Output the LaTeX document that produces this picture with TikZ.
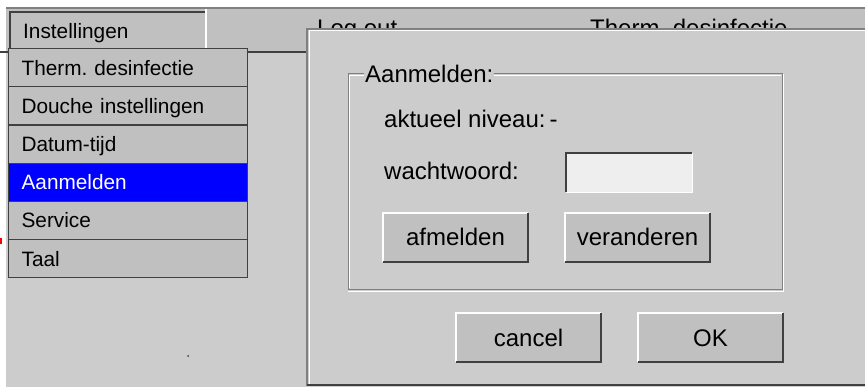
\documentclass[tikz,border=0pt]{standalone}
\usepackage{fontspec}
\setmainfont{Liberation Sans}
\usepackage{xcolor}
\usetikzlibrary{positioning}
\frenchspacing

\definecolor{winbg}{HTML}{CCCCCC}
\definecolor{btngrey}{HTML}{C0C0C0}
\definecolor{darkedge}{HTML}{404040}
\definecolor{midedge}{HTML}{808080}
\definecolor{selblue}{HTML}{0000FF}
\definecolor{fieldgrey}{HTML}{EEEEEE}

\tikzset{
    menuitem/.style={draw=darkedge, line width=1.2pt, fill=btngrey, anchor=north west,
        minimum width=239pt, minimum height=38.2pt, inner xsep=13pt, inner ysep=0pt,
        text width=213pt, align=left, text height=15pt, text depth=0pt,
        font=\fontsize{20.8}{22}\selectfont},
    button/.style={fill=btngrey, minimum width=145pt, minimum height=49pt, inner sep=0pt,
        text height=17pt, text depth=0pt, font=\fontsize{24}{26}\selectfont},
    dlgtext/.style={anchor=base west, inner sep=0pt, font=\fontsize{24}{26}\selectfont}
}

\newcommand{\raisededge}[1]{%
    \draw[white, line width=1.5pt] (#1.south west) |- (#1.north east);
    \draw[darkedge, line width=2pt] (#1.south west) -| (#1.north east);}

\begin{document}
\begin{tikzpicture}[x=1pt, y=-1pt]
        \useasboundingbox (0, 0) rectangle (865, 387);
        \fill[white] (0, 0) rectangle (865, 387);
        \fill[winbg] (6, 8) rectangle (865, 387);

        % tab bar
        \fill[btngrey] (6, 9) rectangle (865, 52);
        \draw[midedge, line width=1.5pt] (6, 8) -- (865, 8);
        \draw[darkedge, line width=1.5pt] (0, 52) -- (865, 52);
        \node[anchor=west, inner sep=0pt, font=\fontsize{20.8}{22}\selectfont] (tabsettings) at (23, 33) {Instellingen};
        \draw[darkedge, line width=1.5pt] (10, 48) -- (10, 12) -- (206, 12);
        \draw[white, line width=1.5pt] (206, 9) -- (206, 48);
        \node[dlgtext] (tablogout) at (317, 37) {Log out};
        \node[dlgtext] (tabdisinf) at (590, 37) {Therm. desinfectie};

        % menu
        \node[menuitem] (itemdisinf) at (8, 48) {Therm. desinfectie};
        \node[menuitem] (itemshower) at (8, 86.2) {Douche instellingen};
        \node[menuitem] (itemdate) at (8, 124.4) {Datum-tijd};
        \node[menuitem, fill=selblue, text=white] (itemlogin) at (8, 162.6) {Aanmelden};
        \node[menuitem] (itemservice) at (8, 200.8) {Service};
        \node[menuitem] (itemlang) at (8, 239) {Taal};

        \fill[red] (0, 238) rectangle (2, 244);
        \fill[darkedge] (188, 356) circle (1pt);

        % dialog
        \filldraw[fill=winbg, draw=midedge, line width=1.5pt] (307, 29) rectangle (870, 385);
        \draw[white, line width=1pt] (309, 384) -- (309, 31) -- (865, 31);
        \draw[darkedge, line width=1.5pt] (307, 385) -- (865, 385);

        \draw[midedge, line width=1pt] (348, 74) rectangle (782, 290);
        \draw[white, line width=1pt] (349.5, 288.5) -- (349.5, 75.5) -- (780.5, 75.5);
        \draw[white, line width=1pt] (348, 291.5) -- (783.5, 291.5) -- (783.5, 74);
        \node[dlgtext, fill=winbg, inner xsep=1pt] (grouptitle) at (364, 83) {Aanmelden:};

        \node[dlgtext] (levellabel) at (384, 128) {aktueel niveau:\,-};
        \node[dlgtext] (pwlabel) at (384, 180) {wachtwoord:};
        \node[fill=fieldgrey, minimum width=126pt, minimum height=39pt, inner sep=0pt, anchor=north west] (pwfield) at (566, 153) {};
        \draw[white, line width=1.5pt] (pwfield.south west) -| (pwfield.north east);
        \draw[darkedge, line width=2pt] (pwfield.south west) |- (pwfield.north east);

        \node[button] (btnlogoff) at (455.5, 237.5) {afmelden};
        \raisededge{btnlogoff}
        \node[button] (btnchange) at (637.5, 237.5) {veranderen};
        \raisededge{btnchange}
        \node[button] (btncancel) at (528.5, 337.5) {cancel};
        \raisededge{btncancel}
        \node[button] (btnok) at (710.5, 337.5) {OK};
        \raisededge{btnok}
    \end{tikzpicture}
\end{document}
